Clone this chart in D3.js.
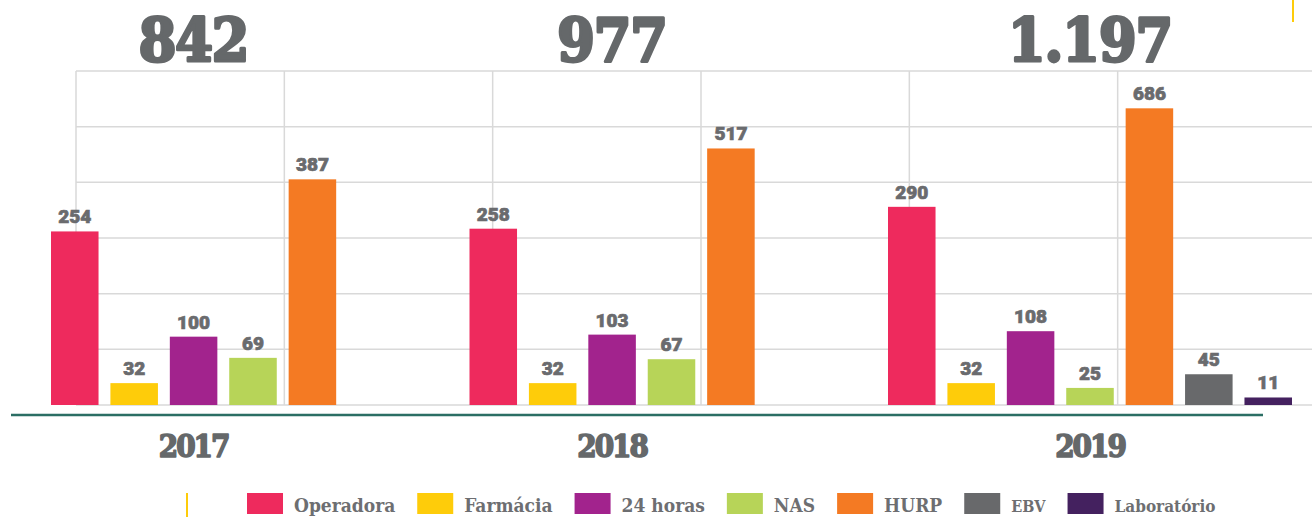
<!DOCTYPE html>
<html>
<head>
<meta charset="utf-8">
<script src="https://cdn.jsdelivr.net/npm/d3@7"></script>
<style>
  html, body { margin: 0; padding: 0; background: #fff; }
  svg { display: block; }
</style>
</head>
<body>
<div id="chart"></div>
<script>
// data
const years = ['2017', '2018', '2019'];
const series = ['Operadora', 'Farmácia', '24 horas', 'NAS', 'HURP', 'EBV', 'Laboratório'];
const colors = ['#ee2a5d', '#fecc0a', '#a2238d', '#b7d458', '#f47a23', '#68696b', '#44215f'];

const operadora = [254, 258, 290];
const farmacia = [32, 32, 32];
const horas24 = [100, 103, 108];
const nas = [69, 67, 25];
const hurp = [387, 517, 686];
const ebv = [null, null, 45];
const laboratorio = [null, null, 11];

const seriesValues = [operadora, farmacia, horas24, nas, hurp, ebv, laboratorio];

const W = 1312, H = 517;
const grey = '#65686a';
const slab = "'DejaVu Serif Condensed', 'DejaVu Serif', serif";

const ptBR = d3.formatLocale({ decimal: ',', thousands: '.', grouping: [3], currency: ['R$', ''] });
const fmtTotal = ptBR.format(',d');

const svg = d3.select('#chart').append('svg')
	.attr('width', W)
	.attr('height', H);

// grid (plain lines, no axis labels in the picture)
const gridX = d3.scaleLinear().domain([0, 6]).range([76, 1326]);
const gridY = d3.scaleLinear().domain([0, 6]).range([405, 71]);

const grid = svg.append('g').attr('class', 'grid')
	.attr('stroke', '#d9d9d9')
	.attr('stroke-width', 1.5);

grid.selectAll('line.h')
	.data(gridY.ticks(6))
	.enter().append('line')
	.attr('class', 'h')
	.attr('x1', gridX(0)).attr('x2', W)
	.attr('y1', d => gridY(d)).attr('y2', d => gridY(d));

grid.selectAll('line.v')
	.data(gridX.ticks(6))
	.enter().append('line')
	.attr('class', 'v')
	.attr('x1', d => gridX(d)).attr('x2', d => gridX(d))
	.attr('y1', gridY(6)).attr('y2', gridY(0));

// scales for the bars
const x0 = d3.scalePoint().domain(years).range([51, 888]);
const x1 = d3.scaleBand().domain(series).range([0, 404]).paddingInner(0.2);
// the bars in the picture are squeezed above ~300, so the scale is broken there
const y = d3.scaleLinear().domain([0, 300, 700]).range([405, 200, 105]);

const rows = [];
years.forEach((yr, i) => {
	series.forEach((s, j) => {
		const v = seriesValues[j][i];
		if (v != null) rows.push({ year: yr, key: s, value: v, color: colors[j] });
	});
});

const bars = svg.append('g').attr('class', 'bars')
	.selectAll('g')
	.data(rows)
	.enter().append('g');

bars.append('rect')
	.attr('x', d => x0(d.year) + x1(d.key))
	.attr('y', d => y(d.value))
	.attr('width', x1.bandwidth())
	.attr('height', d => y(0) - y(d.value))
	.attr('fill', d => d.color);

bars.append('text')
	.attr('x', d => x0(d.year) + x1(d.key) + x1.bandwidth() / 2)
	.attr('y', d => y(d.value) - 8)
	.attr('text-anchor', 'middle')
	.style('font-family', 'Roboto, sans-serif')
	.style('font-weight', 900)
	.style('font-size', '19px')
	.style('fill', '#6a6b6e')
	.style('stroke', '#6a6b6e')
	.style('stroke-width', 0.7)
	.text(d => d.value);

// totals and year labels, centred over each group of bars
const groups = years.map((yr, i) => {
	const present = rows.filter(r => r.year === yr);
	const left = d3.min(present, r => x0(yr) + x1(r.key));
	const right = d3.max(present, r => x0(yr) + x1(r.key) + x1.bandwidth());
	return { year: yr, total: d3.sum(present, r => r.value), cx: (left + right) / 2 };
});

svg.append('g').selectAll('text')
	.data(groups)
	.enter().append('text')
	.attr('x', d => d.cx)
	.attr('y', 61)
	.attr('text-anchor', 'middle')
	.style('font-family', slab)
	.style('font-stretch', 'condensed')
	.style('font-weight', 'bold')
	.style('font-size', '60px')
	.style('letter-spacing', '-1px')
	.style('fill', grey)
	.style('stroke', grey)
	.style('stroke-width', 3)
	.style('stroke-linejoin', 'round')
	.text(d => fmtTotal(d.total));

svg.append('line')
	.attr('x1', 11).attr('x2', 1263)
	.attr('y1', 415).attr('y2', 415)
	.attr('stroke', '#2b6e64')
	.attr('stroke-width', 2.5);

svg.append('g').selectAll('text')
	.data(groups)
	.enter().append('text')
	.attr('x', d => d.cx)
	.attr('y', 457)
	.attr('text-anchor', 'middle')
	.style('font-family', slab)
	.style('font-stretch', 'condensed')
	.style('font-weight', 'bold')
	.style('font-size', '31px')
	.style('letter-spacing', '-2px')
	.style('fill', grey)
	.style('stroke', grey)
	.style('stroke-width', 1.5)
	.style('stroke-linejoin', 'round')
	.text(d => d.year);

// little yellow page marks
svg.append('line')
	.attr('x1', 187).attr('x2', 187).attr('y1', 493).attr('y2', H)
	.attr('stroke', '#fecc0a').attr('stroke-width', 2);
svg.append('line')
	.attr('x1', 1293).attr('x2', 1293).attr('y1', 0).attr('y2', 22)
	.attr('stroke', '#fecc0a').attr('stroke-width', 2);

// legend, laid out left to right
const legend = svg.append('g').attr('class', 'legend');
let lx = 247;
series.forEach((s, i) => {
	const item = legend.append('g').attr('transform', 'translate(' + lx + ',0)');
	item.append('rect')
		.attr('x', 0).attr('y', 493)
		.attr('width', 36).attr('height', 21)
		.attr('fill', colors[i]);
	const t = item.append('text')
		.attr('x', 47)
		.attr('y', 512)
		.style('font-family', slab)
		.style('font-stretch', 'condensed')
		.style('font-weight', 'bold')
		.style('font-size', s === 'EBV' ? '16px' : (s === 'Laboratório' ? '17px' : '19px'))
		.style('fill', '#6d6e71')
		.text(s);
	lx += 47 + t.node().getComputedTextLength() + 22;
});
</script>
</body>
</html>
